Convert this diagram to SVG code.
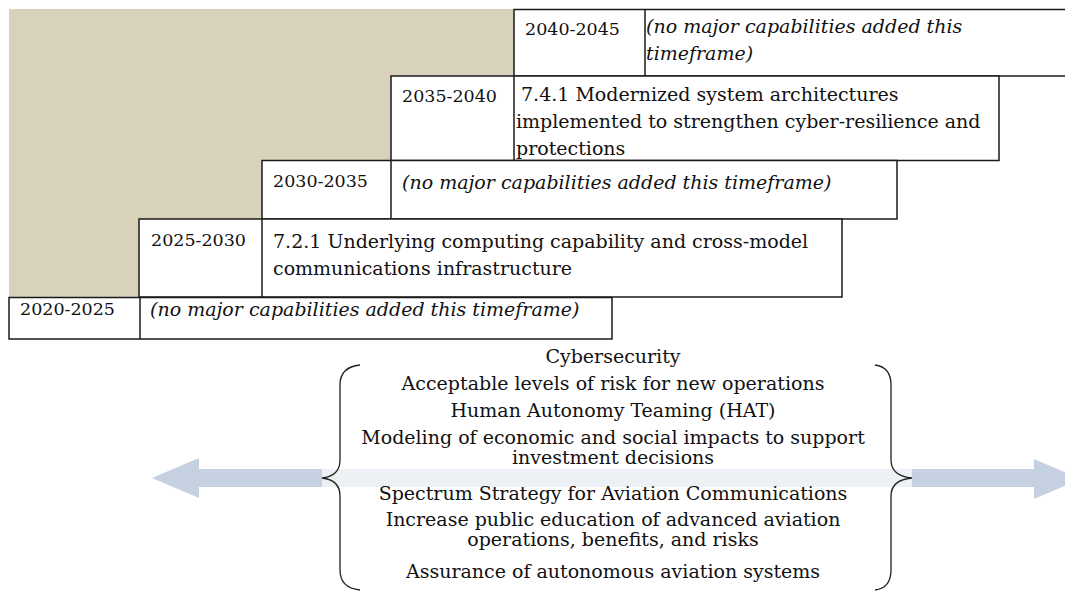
<svg xmlns="http://www.w3.org/2000/svg" width="1065" height="592" viewBox="0 0 1065 592">
<style>
.box{fill:#fff;stroke:#1a1a1a;stroke-width:1.5}
.div{stroke:#1a1a1a;stroke-width:1.5}
.lbl{font-family:"DejaVu Serif","Liberation Serif",serif;font-size:17.5px;fill:#111}
.txt{font-family:"DejaVu Serif","Liberation Serif",serif;font-size:19px;fill:#111}
.it{font-style:italic}
.ctr{font-family:"DejaVu Serif","Liberation Serif",serif;font-size:19px;fill:#111;text-anchor:middle}
.brace{fill:none;stroke:#222;stroke-width:1.3}
.arrow{fill:#c5d1e0}
</style>
<rect x="9" y="9" width="505" height="289" fill="#d9d2bb"/>
<g id="row-2040">
<rect class="box" x="514" y="9.5" width="560" height="66.5"/>
<line class="div" x1="645" y1="9.5" x2="645" y2="76"/>
<text class="lbl" x="525" y="35">2040-2045</text>
<text class="txt it" x="646" y="33">(no major capabilities added this</text>
<text class="txt it" x="646" y="60">timeframe)</text>
</g>
<g id="row-2035">
<rect class="box" x="391" y="76" width="608" height="84.5"/>
<line class="div" x1="514" y1="76" x2="514" y2="160.5"/>
<text class="lbl" x="402" y="102">2035-2040</text>
<text class="txt" x="521" y="101">7.4.1 Modernized system architectures</text>
<text class="txt" x="516" y="128">implemented to strengthen cyber-resilience and</text>
<text class="txt" x="516" y="155">protections</text>
</g>
<g id="row-2030">
<rect class="box" x="262" y="160.5" width="635" height="58.5"/>
<line class="div" x1="391" y1="160.5" x2="391" y2="219"/>
<text class="lbl" x="273" y="187">2030-2035</text>
<text class="txt it" x="402" y="189">(no major capabilities added this timeframe)</text>
</g>
<g id="row-2025">
<rect class="box" x="139" y="219" width="703" height="78"/>
<line class="div" x1="262" y1="219" x2="262" y2="297"/>
<text class="lbl" x="151" y="246">2025-2030</text>
<text class="txt" x="273" y="248">7.2.1 Underlying computing capability and cross-model</text>
<text class="txt" x="273" y="275">communications infrastructure</text>
</g>
<g id="row-2020">
<rect class="box" x="9" y="297.5" width="603" height="41.5"/>
<line class="div" x1="140" y1="297.5" x2="140" y2="339"/>
<text class="lbl" x="20" y="315">2020-2025</text>
<text class="txt it" x="150" y="316">(no major capabilities added this timeframe)</text>
</g>
<g id="connectors">
<rect x="322" y="469" width="590" height="18" fill="#edf1f5"/>
<polygon class="arrow" points="152,478 199,458 199,469 322,469 322,487 199,487 199,498"/>
<polygon class="arrow" points="912,469 1034,469 1034,459 1081,479 1034,499 1034,487 912,487"/>
</g>
<g id="capabilities">
<path class="brace" d="M360,365 Q340,367 340,385 L340,460 Q340,476 322,478 Q340,480 340,496 L340,570 Q340,588 360,590"/>
<path class="brace" d="M875,365 Q891,367 891,385 L891,460 Q891,476 912,478 Q891,480 891,496 L891,570 Q891,588 875,590"/>
<text class="ctr" x="613" y="363">Cybersecurity</text>
<text class="ctr" x="613" y="390">Acceptable levels of risk for new operations</text>
<text class="ctr" x="613" y="417">Human Autonomy Teaming (HAT)</text>
<text class="ctr" x="613" y="444">Modeling of economic and social impacts to support</text>
<text class="ctr" x="613" y="464">investment decisions</text>
<text class="ctr" x="613" y="500">Spectrum Strategy for Aviation Communications</text>
<text class="ctr" x="613" y="526">Increase public education of advanced aviation</text>
<text class="ctr" x="613" y="546">operations, benefits, and risks</text>
<text class="ctr" x="613" y="578">Assurance of autonomous aviation systems</text>
</g>
</svg>
